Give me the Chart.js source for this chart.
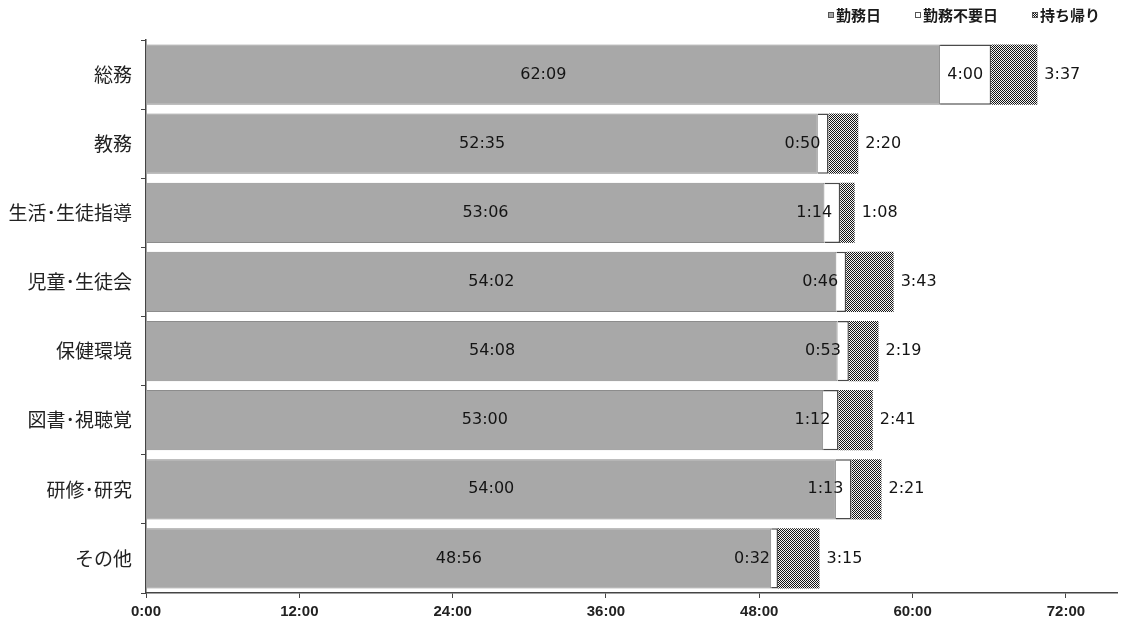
<!DOCTYPE html>
<html><head><meta charset="utf-8">
<script src="https://cdn.jsdelivr.net/npm/chart.js@4.4.1/dist/chart.umd.min.js"></script>
<style>html,body{margin:0;padding:0;background:#fff}canvas{display:block}</style>
</head><body>
<canvas id="c" width="1132" height="627"></canvas>
<script>
// ---- data (h:mm) ----
const categories = ['総務','教務','生活･生徒指導','児童･生徒会','保健環境','図書･視聴覚','研修･研究','その他'];
const seriesNames = ['勤務日','勤務不要日','持ち帰り'];
const workdayValues  = ['62:09','52:35','53:06','54:02','54:08','53:00','54:00','48:56'];
const dayOffValues   = ['4:00','0:50','1:14','0:46','0:53','1:12','1:13','0:32'];
const takeHomeValues = ['3:37','2:20','1:08','3:43','2:19','2:41','2:21','3:15'];
const tickLabels = ['0:00','12:00','24:00','36:00','48:00','60:00','72:00'];
const axisMax = '76:00';

const toMin = s => { const [h,m] = s.split(':').map(Number); return h*60+m; };
const fmt = v => Math.floor(v/60) + ':' + String(v%60).padStart(2,'0');
const tickValues = tickLabels.map(toMin);

const canvas = document.getElementById('c');
const ctx0 = canvas.getContext('2d');
function makeHatch(){
  const c = document.createElement('canvas'); c.width = 2; c.height = 2;
  const g = c.getContext('2d');
  g.fillStyle = '#f4f4f4'; g.fillRect(0,0,2,2);
  g.fillStyle = '#151515';
  g.fillRect(0,0,1,1); g.fillRect(1,1,1,1);
  return ctx0.createPattern(c,'repeat');
}
const hatch = makeHatch();
const fills = ['#a8a8a8', '#ffffff', hatch];

const valueLabels = {
  id: 'valueLabels',
  afterDatasetsDraw(chart){
    const ctx = chart.ctx; ctx.save();
    ctx.font = '16px "DejaVu Sans"';
    ctx.fillStyle = '#141414';
    ctx.textBaseline = 'middle';
    chart.data.datasets.forEach((ds, di) => {
      const meta = chart.getDatasetMeta(di);
      meta.data.forEach((bar, i) => {
        const txt = fmt(ds.data[i]);
        const left = Math.min(bar.base, bar.x), right = Math.max(bar.base, bar.x);
        if (di === 0) { ctx.textAlign = 'center'; ctx.fillText(txt, (left+right)/2, bar.y); }
        else if (di === 1) { ctx.textAlign = 'right'; ctx.fillText(txt, right - 8, bar.y); }
        else { ctx.textAlign = 'left'; ctx.fillText(txt, right + 7, bar.y); }
      });
    });
    ctx.restore();
  }
};

const legendPlugin = {
  id: 'customLegend',
  afterDraw(chart){
    const ctx = chart.ctx; ctx.save();
    ctx.font = 'bold 15px "Noto Sans CJK JP"';
    ctx.textBaseline = 'middle'; ctx.textAlign = 'left';
    let x = 828; const y = 15;
    chart.data.datasets.forEach(ds => {
      ctx.fillStyle = ds.backgroundColor;
      ctx.fillRect(x, y-3, 6, 6);
      ctx.strokeStyle = '#555'; ctx.lineWidth = 1;
      ctx.strokeRect(x+0.5, y-2.5, 5, 5);
      ctx.fillStyle = '#1a1a1a';
      ctx.fillText(ds.label, x + 8, y);
      x += 8 + ctx.measureText(ds.label).width + 34;
    });
    ctx.restore();
  }
};

new Chart(canvas, {
  type: 'bar',
  data: {
    labels: categories,
    datasets: [
      { label: seriesNames[0], data: workdayValues.map(toMin), backgroundColor: fills[0], borderColor: '#8c8c8c', borderWidth: 1 },
      { label: seriesNames[1], data: dayOffValues.map(toMin), backgroundColor: fills[1], borderColor: '#4a4a4a', borderWidth: 1.5 },
      { label: seriesNames[2], data: takeHomeValues.map(toMin), backgroundColor: fills[2], borderWidth: 0 }
    ]
  },
  options: {
    indexAxis: 'y',
    responsive: false,
    animation: false,
    devicePixelRatio: 1,
    layout: { padding: { top: 40, right: 15, bottom: 0, left: 0 } },
    datasets: { bar: { categoryPercentage: 1, barPercentage: 0.87 } },
    plugins: { legend: { display: false }, tooltip: { enabled: false } },
    scales: {
      x: {
        stacked: true, min: 0, max: toMin(axisMax),
        afterBuildTicks(s){ s.ticks = tickValues.map(v => ({ value: v })); },
        ticks: {
          callback: v => tickLabels[tickValues.indexOf(v)] ?? '',
          font: { family: 'Liberation Sans', size: 15, weight: 'bold' },
          color: '#222', padding: 5, maxRotation: 0, autoSkip: false
        },
        grid: { drawOnChartArea: false, drawTicks: true, tickLength: 5, color: '#444' },
        border: { color: '#444', width: 1.5 },
        afterFit(s){ s.height = 34; }
      },
      y: {
        stacked: true,
        ticks: { font: { family: 'Noto Sans CJK JP', size: 19 }, color: '#222', padding: 9 },
        grid: { drawOnChartArea: false, drawTicks: true, tickLength: 5, color: '#444', offset: true },
        border: { color: '#444', width: 1.5 },
        afterFit(s){ s.width = 146; }
      }
    }
  },
  plugins: [valueLabels, legendPlugin]
});
</script>
</body></html>
